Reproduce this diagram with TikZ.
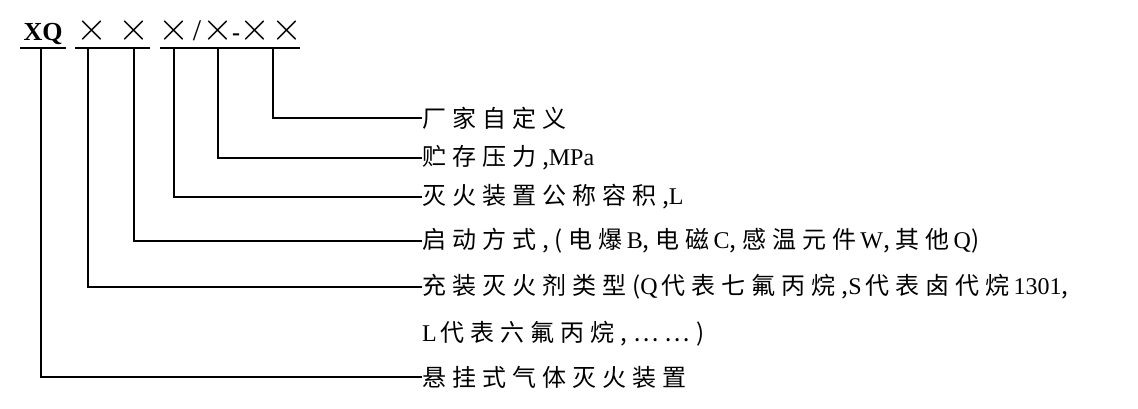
\documentclass[tikz,border=0pt]{standalone}
\usepackage{fontspec}
\setmainfont{Liberation Serif}
\newfontfamily\cjk{Noto Sans CJK SC}[LetterSpace=25]
\begin{document}
\begin{tikzpicture}[x=1pt,y=-1pt,
  ln/.style={line width=1.4pt},
  lab/.style={anchor=west,inner sep=0pt,font=\fontsize{24}{26}\selectfont\cjk},
  hd/.style={anchor=base,inner sep=0pt,font=\fontsize{24}{26}\selectfont}]
\useasboundingbox (0,0) rectangle (1138,408);
\node[hd,font=\fontsize{26}{28}\selectfont\bfseries] (xq) at (43,40) {XQ};
\node[hd] (c1) at (92,40) {\scalebox{1.6}{$\times$}};
\node[hd] (c2) at (134,40) {\scalebox{1.6}{$\times$}};
\node[hd] (c3) at (174,40) {\scalebox{1.6}{$\times$}};
\node[hd,font=\fontsize{30}{30}\selectfont] (sl) at (197,40) {/};
\node[hd] (c4) at (218,40) {\scalebox{1.6}{$\times$}};
\node[hd] (da) at (236,40) {\textbf{-}};
\node[hd] (c5) at (255,40) {\scalebox{1.6}{$\times$}};
\node[hd] (c6) at (287,40) {\scalebox{1.6}{$\times$}};
\draw[ln] (20,48) -- (66,48) (75,48) -- (150,48) (160,48) -- (240,48) (240,48) -- (300,48);
\node[lab] (t1) at (422,118) {厂家自定义};
\node[lab] (t2) at (422,158) {贮存压力,\rmfamily MPa};
\node[lab] (t3) at (422,197) {灭火装置公称容积,\rmfamily L};
\node[lab] (t4) at (422,241) {启动方式,(电爆\,\rmfamily B\cjk,电磁\,\rmfamily C\cjk,感温元件\,\rmfamily W\cjk,其他\,\rmfamily Q\cjk)};
\node[lab] (t5) at (422,287) {充装灭火剂类型(\rmfamily Q\,\cjk 代表七氟丙烷,\rmfamily S\,\cjk 代表卤代烷\,\rmfamily 1301\cjk,};
\node[lab] (t6) at (422,334) {\rmfamily L\,\cjk 代表六氟丙烷,……)};
\node[lab] (t7) at (422,377) {悬挂式气体灭火装置};
\draw[ln] (273,48) |- (t1.west);
\draw[ln] (218,48) |- (t2.west);
\draw[ln] (174,48) |- (t3.west);
\draw[ln] (134,48) |- (t4.west);
\draw[ln] (88,48) |- (t5.west);
\draw[ln] (41,48) |- (t7.west);
\end{tikzpicture}
\end{document}
